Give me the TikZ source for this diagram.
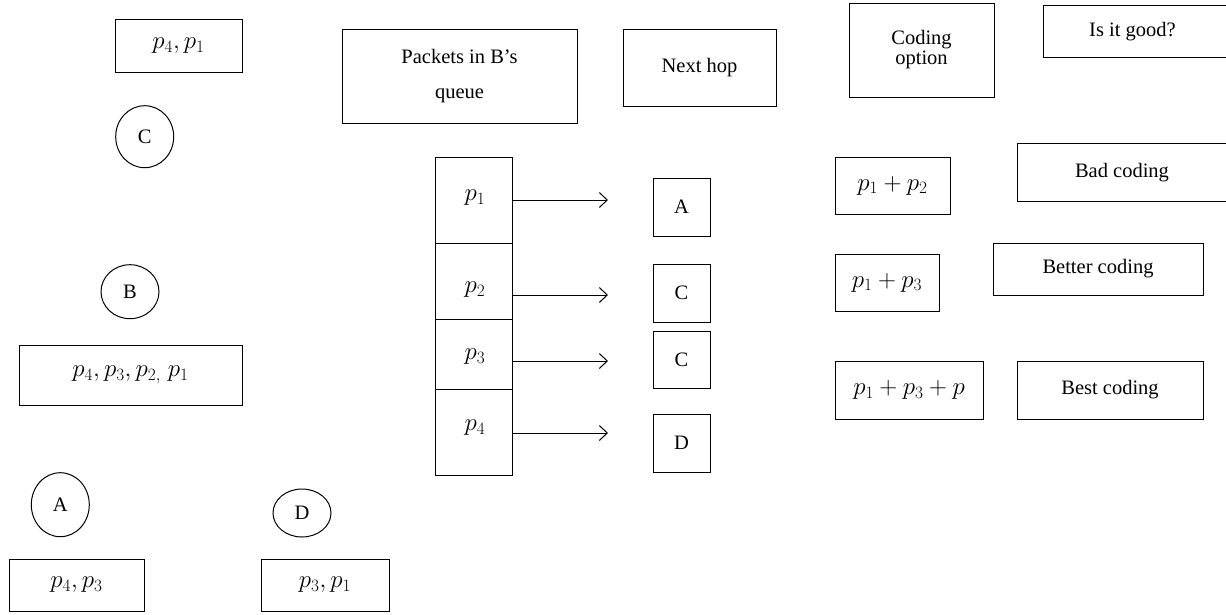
\documentclass[tikz,border=0pt]{standalone}
\usepackage{fontspec}
\setmainfont{Liberation Serif}
\usetikzlibrary{arrows.meta,shapes.geometric}
\tikzset{
  every node/.style={font=\fontsize{20.5}{24}\selectfont},
  mth/.style={font=\fontsize{23}{26}\selectfont},
  box/.style 2 args={draw, line width=1pt, rectangle, inner sep=0pt, minimum width=#1, minimum height=#2},
  oval/.style 2 args={draw, line width=1pt, ellipse, inner sep=0pt, minimum width=#1, minimum height=#2},
  txt/.style={inner sep=0pt},
  arr/.style={line width=1pt, -{Straight Barb[length=8pt,width=15pt,line width=1pt]}}
}
\begin{document}
\begin{tikzpicture}[x=1pt,y=-1pt]
\useasboundingbox (0,0) rectangle (1226,614);
% left column
\node[box={127pt}{53pt}, mth] (b41) at (178.5,45.5) {$p_4, p_1$};
\node[oval={58pt}{62pt}] (cC) at (144.7,136.7) {C};
\node[oval={58pt}{54pt}] (cB) at (130,291.7) {B};
\node[box={223pt}{60pt}, mth] (b4321) at (130.5,375) {$p_4, p_3, p_{2,}\;p_1$};
\node[oval={58pt}{64pt}] (cA) at (60.3,504.7) {A};
\node[oval={58pt}{48pt}] (cD) at (302,513) {D};
\node[box={135pt}{52pt}, mth] (b43) at (76.5,585) {$p_4, p_3$};
\node[box={128pt}{52pt}, mth] (b31) at (325,585) {$p_3, p_1$};
% headers
\node[box={235pt}{94pt}, align=center, font=\fontsize{20.5}{35}\selectfont] (pq) at (459.5,76) {Packets in B’s\\queue};
\node[box={153pt}{77pt}] (nh) at (699.5,67.5) {Next hop};
\node[box={145pt}{94pt}, align=center, font=\fontsize{20.5}{20}\selectfont] (co) at (921.5,50) {Coding\\option};
\node[box={200pt}{52pt}] (ig) at (1143,31) {};
\node[txt] (igt) at (1132.5,31.5) {Is it good?};
% queue
\node[box={77pt}{86pt}] (q1) at (473.5,200) {};
\node[box={77pt}{76pt}] (q2) at (473.5,281) {};
\node[box={77pt}{70pt}] (q3) at (473.5,354) {};
\node[box={77pt}{86pt}] (q4) at (473.5,432) {};
\node[txt, mth] (l1) at (475,198) {$p_1$};
\node[txt, mth] (l2) at (475,290) {$p_2$};
\node[txt, mth] (l3) at (475,357) {$p_3$};
\node[txt, mth] (l4) at (475,428) {$p_4$};
% next hops
\node[box={57pt}{58pt}] (nA) at (681.5,207) {A};
\node[box={57pt}{58pt}] (nC1) at (681.5,293) {C};
\node[box={57pt}{57pt}] (nC2) at (681.5,359.5) {C};
\node[box={57pt}{58pt}] (nD) at (681.5,443) {D};
% arrows
\coordinate (e1) at (608,200);
\coordinate (e2) at (608,295);
\coordinate (e3) at (608,361);
\coordinate (e4) at (608,433);
\draw[arr] (q1.east |- e1) -- (e1);
\draw[arr] (q2.east |- e2) -- (e2);
\draw[arr] (q3.east |- e3) -- (e3);
\draw[arr] (q4.east |- e4) -- (e4);
% coding options
\node[box={115pt}{57pt}, mth] (p12) at (892.5,185.5) {$p_1 + p_2$};
\node[box={104pt}{57pt}, mth] (p13) at (887,282.5) {$p_1 + p_3$};
\node[box={148pt}{58pt}, mth] (p133) at (909,390) {$p_1 + p_3 + p$};
\node[box={226pt}{58pt}] (bad) at (1130,172) {};
\node[txt] (badt) at (1122,173) {Bad coding};
\node[box={210pt}{52pt}] (better) at (1098,269) {Better coding};
\node[box={186pt}{58pt}] (best) at (1110,390) {Best coding};
\end{tikzpicture}
\end{document}
